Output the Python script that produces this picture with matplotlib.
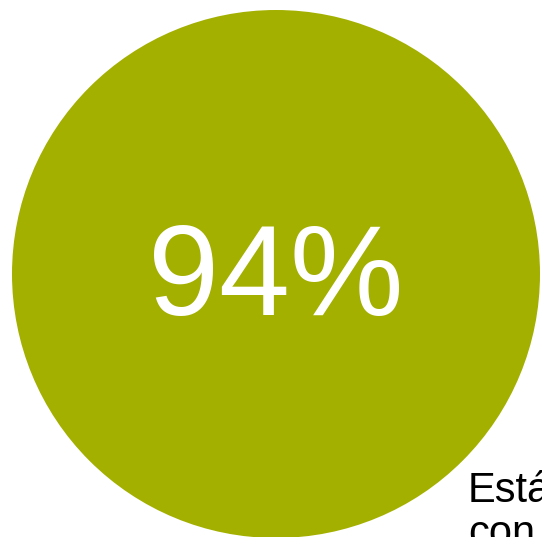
import matplotlib.pyplot as plt
from matplotlib.patches import Circle

# ---- data ----
value = 94              # percent shown in the circle
label_lines = ["Está", "con"]   # caption text (cut off at the right edge)

circle_color = "#a3b000"
W, H = 542, 537

fig = plt.figure(figsize=(W / 100, H / 100), dpi=100)
ax = fig.add_axes([0, 0, 1, 1])
ax.set_xlim(0, W)
ax.set_ylim(H, 0)
ax.set_aspect("equal")
ax.axis("off")

# big filled circle
cx, cy, r = 276, 274, 264
ax.add_patch(Circle((cx, cy), r, color=circle_color, lw=0))

ax.text(cx, 315, f"{value}%", color="white", ha="center", va="baseline",
        fontsize=92, family="Liberation Sans")

# caption running off the figure, one text per line
for i, line in enumerate(label_lines):
    ax.text(468, 502 + i * 43, line, color="black", ha="left",
            va="baseline", fontsize=30, family="Liberation Sans")

fig.savefig("out.png", dpi=100)
plt.close(fig)
